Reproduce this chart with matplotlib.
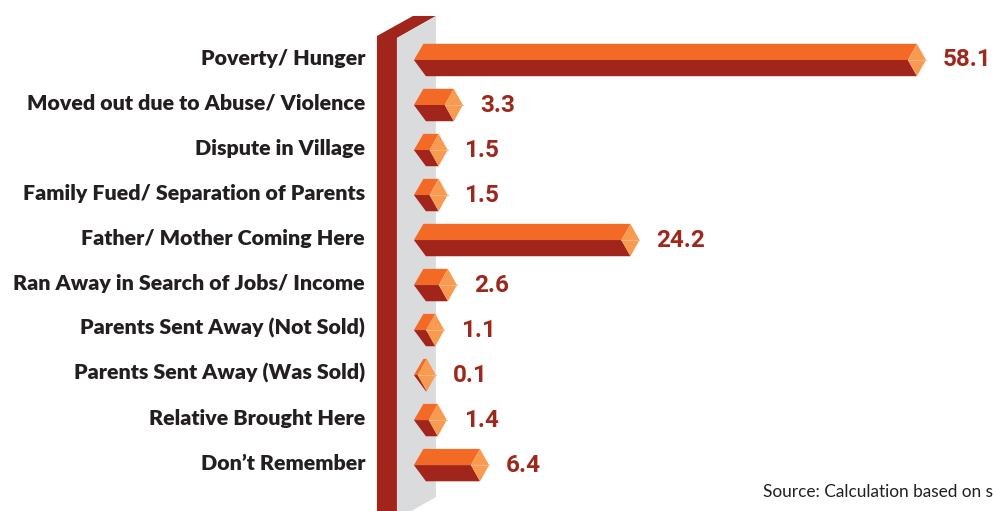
import matplotlib.pyplot as plt
from matplotlib.patches import Polygon

# data
reasons = [
    "Poverty/ Hunger",
    "Moved out due to Abuse/ Violence",
    "Dispute in Village",
    "Family Fued/ Separation of Parents",
    "Father/ Mother Coming Here",
    "Ran Away in Search of Jobs/ Income",
    "Parents Sent Away (Not Sold)",
    "Parents Sent Away (Was Sold)",
    "Relative Brought Here",
    "Don\u2019t Remember",
]
shares = [58.1, 3.3, 1.5, 1.5, 24.2, 2.6, 1.1, 0.1, 1.4, 6.4]

ORANGE = "#F26A25"
DARK = "#A1251A"
CAP = "#F89A50"
CAP_LINE = "#FCB67D"
WALL_GRAY = "#DADBDC"
VALUE_COL = "#9E281C"
LABEL_COL = "#231F20"

fig = plt.figure(figsize=(9.93, 5.11), dpi=100)
ax = fig.add_axes([0, 0, 1, 1])
ax.set_xlim(-50.4, 67.1)
ax.set_ylim(10.02, -1.333)
ax.axis("off")

# the "wall" behind the bars
wall_side = [(-5.8, -0.533), (-1.54, -0.978), (1.18, -0.978), (-3.43, -0.489),
             (-3.43, 10.3), (-5.8, 10.3)]
wall_face = [(-3.43, -0.489), (1.18, -0.978), (1.18, 9.71), (-3.43, 10.2)]
ax.add_patch(Polygon(wall_side, closed=True, fc=DARK, ec="none", zorder=1))
ax.add_patch(Polygon(wall_face, closed=True, fc=WALL_GRAY, ec="none", zorder=1))

h = 0.36      # half bar height
cap = 1.07    # half width of the end cap
tip = 1.42    # left point of the bar
corner = 0.3

for i, (name, v) in enumerate(zip(reasons, shares)):
    top, mid, bot = i - h, i, i + h
    # upper face
    ax.add_patch(Polygon([(-corner, top), (v, top), (v - cap, mid), (-tip, mid)],
                         closed=True, fc=ORANGE, ec="none", zorder=3))
    # lower face
    ax.add_patch(Polygon([(-tip, mid), (v - cap, mid), (v, bot), (0, bot)],
                         closed=True, fc=DARK, ec="none", zorder=3))
    # end cap
    ax.add_patch(Polygon([(v, top), (v + cap, mid), (v, bot), (v - cap, mid)],
                         closed=True, fc=CAP, ec="none", zorder=4))
    ax.plot([v - cap, v + cap], [mid, mid], color=CAP_LINE, lw=0.8, zorder=5)

    ax.text(-7.2, i - 0.04, name, ha="right", va="center", fontsize=15.4,
            fontweight="heavy", family="Lato", color=LABEL_COL)
    ax.text(v + cap + 2.0, i, f"{v:.1f}", ha="left", va="center", fontsize=17.5,
            fontweight="bold", family="Roboto", color=VALUE_COL)

fig.text(763 / 993, 1 - 492 / 511, "Source: Calculation based on survey",
         ha="left", va="center", fontsize=12.4, family="Lato", color=LABEL_COL)

fig.savefig("out.png", dpi=100)
